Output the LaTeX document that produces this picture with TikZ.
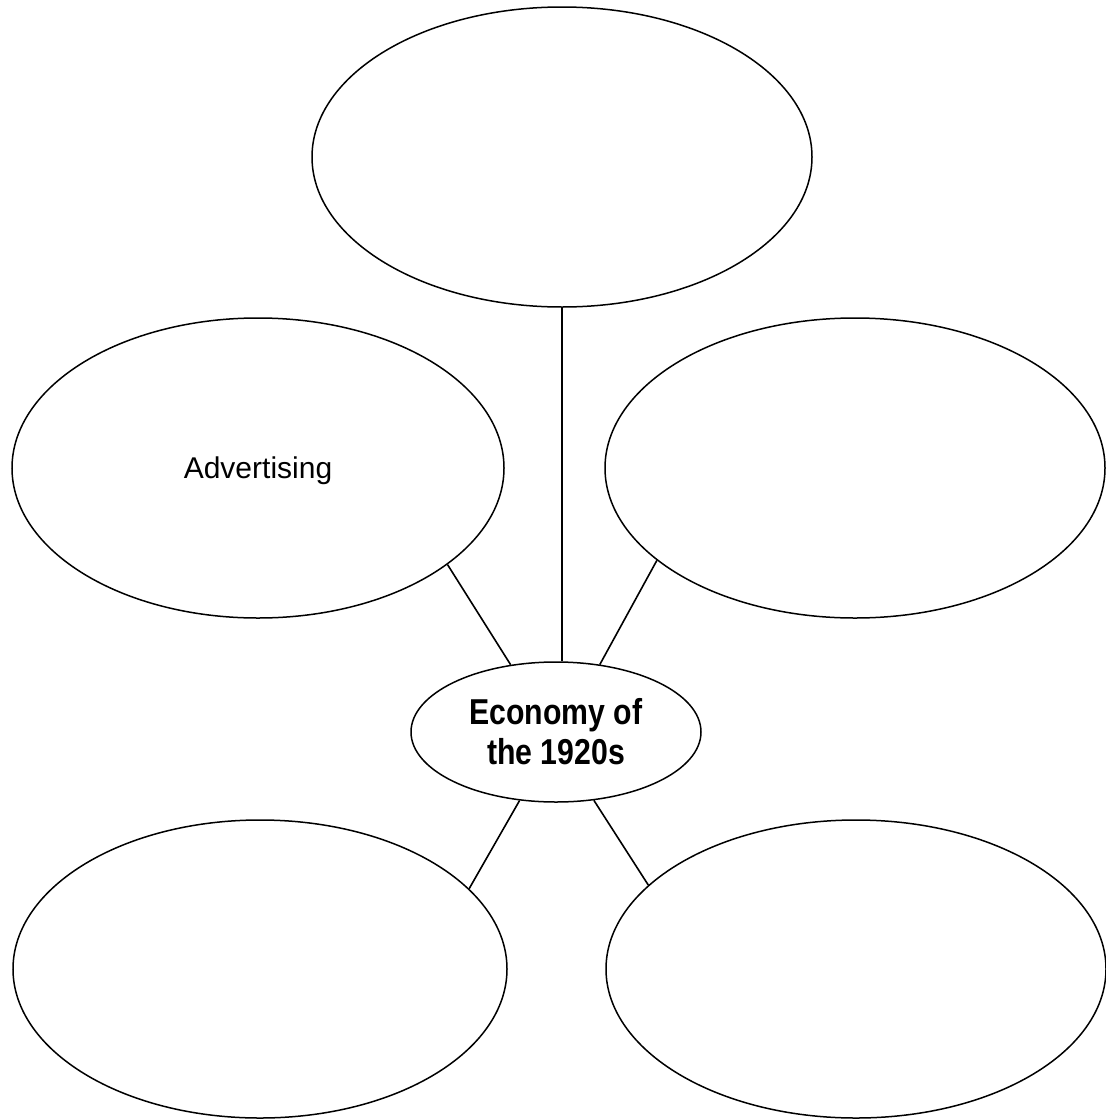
\documentclass[tikz,border=0pt]{standalone}
\usepackage{fontspec}
\setmainfont{Liberation Sans}
\newfontfamily\condbold[FakeStretch=0.84]{Liberation Sans}
\usetikzlibrary{shapes.geometric}
\tikzset{
  bubble/.style={ellipse, draw, line width=0.75pt, inner sep=0pt, minimum width=#1},
  link/.style={line width=0.8pt},
}
\begin{document}
\begin{tikzpicture}[x=0.5pt, y=-0.5pt]
\useasboundingbox (0,0) rectangle (1106,1119);
\node[bubble=250pt, minimum height=150pt] (top) at (562,157) {};
\node[bubble=246pt, minimum height=150pt, font=\fontsize{15}{18}\selectfont, text depth=-3pt] (ml) at (258,468) {Advertising};
\node[bubble=250pt, minimum height=150pt] (mr) at (855,468) {};
\node[bubble=145pt, minimum height=70pt, align=center, font=\condbold\bfseries\fontsize{18}{20}\selectfont] (ctr) at (556,732) {Economy of\\the 1920s};
\node[bubble=247pt, minimum height=149pt] (bl) at (260,969) {};
\node[bubble=250pt, minimum height=149pt] (br) at (856,969) {};
\draw[link] (top.south) -- (top.south |- ctr.north);
\draw[link] (ml.-27) -- (ctr.124);
\draw[link] (mr.-155) -- (ctr.57);
\draw[link] (ctr.-118) -- (bl.21.5);
\draw[link] (ctr.-61) -- (br.158.7);
\end{tikzpicture}
\end{document}
